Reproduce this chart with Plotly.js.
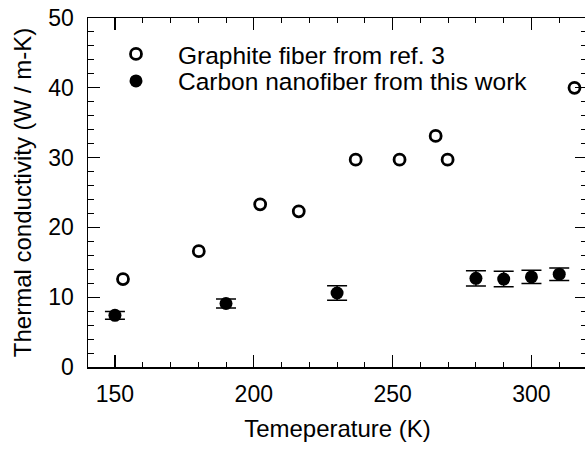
<!DOCTYPE html>
<html>
<head>
<meta charset="utf-8">
<script src="https://cdn.plot.ly/plotly-3.0.1.min.js"></script>
<style>
html,body{margin:0;padding:0;overflow:hidden;background:#fff;}
#chart{width:600px;height:451px;}
</style>
</head>
<body>
<div id="chart"></div>
<script>
// Graphite fiber from ref. 3
const graphiteT = [152.9, 180.2, 202.3, 216.2, 236.7, 252.5, 265.5, 269.8, 315.5];
const graphiteK = [12.6, 16.6, 23.3, 22.3, 29.7, 29.7, 33.1, 29.7, 40.0];
// Carbon nanofiber from this work
const cnfT = [150, 190, 230, 280, 290, 300, 310];
const cnfK = [7.4, 9.1, 10.6, 12.7, 12.6, 12.9, 13.3];
const cnfErr = [0.55, 0.65, 1.05, 1.1, 1.1, 0.95, 0.9];

const traces = [
  {
    x: graphiteT, y: graphiteK, type: 'scatter', mode: 'markers',
    name: 'Graphite fiber from ref. 3', legend: 'legend',
    marker: {symbol: 'circle-open', size: 11, color: '#000', line: {width: 2.8, color: '#000'}}
  },
  {
    x: cnfT, y: cnfK, type: 'scatter', mode: 'markers',
    name: 'Carbon nanofiber from this work', legend: 'legend2',
    marker: {symbol: 'circle', size: 13, color: '#000'},
    error_y: {type: 'data', array: cnfErr, visible: true, color: '#000', thickness: 1.5, width: 10}
  }
];

const fontFam = 'Liberation Sans, Arial, sans-serif';
const legBase = {
  xanchor: 'left', yanchor: 'middle', itemwidth: 74,
  bgcolor: 'rgba(0,0,0,0)', font: {size: 24.5, family: fontFam, color: '#000'}
};
const layout = {
  width: 600, height: 451,
  margin: {l: 88, r: 13, t: 18, b: 84},
  paper_bgcolor: '#fff', plot_bgcolor: '#fff',
  font: {family: fontFam, color: '#000', size: 23},
  showlegend: true,
  legend: Object.assign({x: 0.012, y: 0.8968}, legBase),
  legend2: Object.assign({x: 0.012, y: 0.8195}, legBase),
  xaxis: {
    range: [140.3, 320], showgrid: false, zeroline: false,
    showline: true, linecolor: '#000', linewidth: 1.5, mirror: 'allticks',
    ticks: 'inside', ticklen: 12, tickwidth: 1.2, tickcolor: '#000',
    tick0: 150, dtick: 50, tickfont: {size: 23},
    ticklabelstandoff: 6,
    minor: {ticks: 'inside', dtick: 10, tick0: 150, ticklen: 5, tickwidth: 1, tickcolor: '#000', showgrid: false},
    title: {text: 'Temeperature (K)', font: {size: 24}, standoff: 14}
  },
  yaxis: {
    range: [0, 50], showgrid: false, zeroline: false,
    showline: true, linecolor: '#000', linewidth: 1.5, mirror: 'allticks',
    ticks: 'inside', ticklen: 12, tickwidth: 1.2, tickcolor: '#000',
    tick0: 0, dtick: 10, tickfont: {size: 23},
    ticklabelstandoff: 8,
    minor: {ticks: 'inside', dtick: 2, tick0: 0, ticklen: 6, tickwidth: 1, tickcolor: '#000', showgrid: false},
    title: {text: 'Thermal conductivity (W / m-K)', font: {size: 24}, standoff: 10}
  }
};

Plotly.newPlot('chart', traces, layout, {displayModeBar: false, staticPlot: true});
</script>
</body>
</html>
